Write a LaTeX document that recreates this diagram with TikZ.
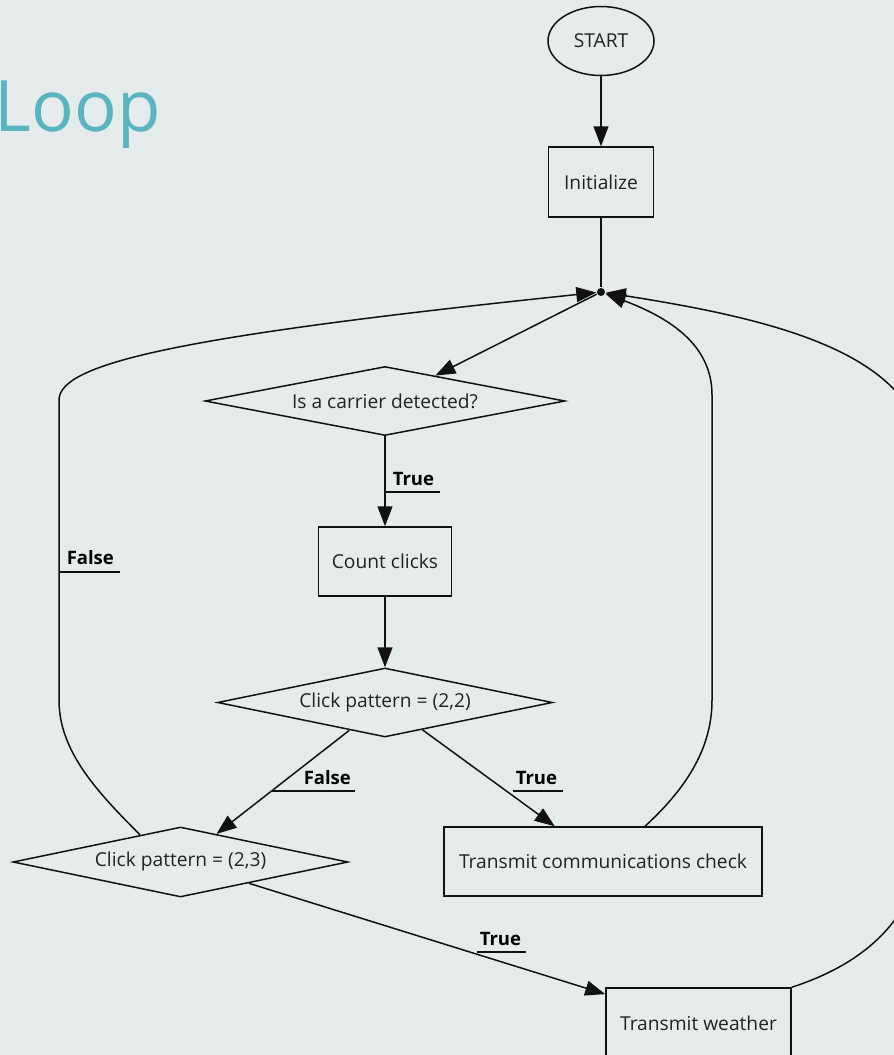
\documentclass[tikz,border=0pt]{standalone}
\usepackage{fontspec}
\setmainfont{Open Sans}
\usetikzlibrary{shapes.geometric,arrows.meta,calc}
\definecolor{bgc}{HTML}{E6ECEC}
\definecolor{titlec}{HTML}{5BB5C1}
\definecolor{ink}{HTML}{111111}
\definecolor{txt}{HTML}{222222}

\begin{document}
\begin{tikzpicture}[x=1pt,y=-1pt,line width=1.5pt,draw=ink,
  every node/.style={text=txt},
  nodefont/.style={font=\fontsize{19.2}{23}\selectfont},
  terminal/.style={draw=ink,ellipse,inner sep=0pt,nodefont},
  process/.style={draw=ink,rectangle,inner sep=0pt,nodefont},
  decision/.style={draw=ink,diamond,inner sep=0pt,nodefont},
  joint/.style={circle,fill=ink,inner sep=0pt,minimum size=8pt},
  flow/.style={draw=ink,-{Triangle[length=20pt,width=15pt]}},
  elabel/.style={anchor=base west,inner sep=0pt,text=black,
    font=\bfseries\fontsize{18.5}{22}\selectfont},
  uline/.style={draw=ink,line width=1.5pt}]
\useasboundingbox[fill=bgc] (0,0) rectangle (894,1055);

% title
\node[anchor=base west,inner sep=0pt,text=titlec,
  font=\fontsize{71}{78}\selectfont] (title) at (-6,131) {Loop};

% flowchart nodes
\node[terminal,minimum width=106pt,minimum height=69pt] (start) at (601,41) {START};
\node[process,minimum width=105pt,minimum height=70pt] (init) at (601,182) {Initialize};
\node[joint] (j) at (601,292) {};
\node[decision,minimum width=360pt,minimum height=69pt,aspect=5.2] (carrier) at (385,401) {Is a carrier detected?};
\node[process,minimum width=133pt,minimum height=69pt] (count) at (385,561.5) {Count clicks};
\node[decision,minimum width=335pt,minimum height=69pt,aspect=4.85] (p22) at (385,702.5) {Click pattern = (2,2)};
\node[decision,minimum width=335pt,minimum height=70pt,aspect=4.8] (p23) at (180.5,862) {Click pattern = (2,3)};
\node[process,minimum width=318pt,minimum height=69pt] (comm) at (603,861.5) {Transmit communications check};
\node[process,minimum width=185pt,minimum height=70pt] (weather) at (698.5,1023) {Transmit weather};

% straight connectors
\draw[flow] (start) -- (init);
\draw (init) -- (j);
\draw[flow] (j) -- (carrier);
\draw[flow] (carrier) -- (count);
\draw[flow] (count) -- (p22);
\draw[flow] (p22) -- (p23);
\draw[flow] (p22) -- (comm);
\draw[flow] (p23) -- (weather);

% loops back to the junction
\draw[flow] ($(p23.north)!0.24!(p23.west)$) .. controls (95,790) and (59,750) .. (59,700)
  -- (59,400) .. controls (59,362) and (190,335) .. (j);
\draw[flow] ([xshift=42pt]comm.north) .. controls (690,785) and (712,745) .. (712,700)
  -- (712,395) .. controls (712,345) and (670,318) .. (j);
\draw[flow] (weather.north east) .. controls (860,965) and (925,920) .. (925,820)
  -- (925,460) .. controls (920,355) and (780,320) .. (j);

% edge labels
\node[elabel] (t1) at (392,485) {True};
\draw[uline] ($(t1.base west)+(-7,7)$) -- ($(t1.base east)+(5,7)$);
\node[elabel] (f1) at (66,564) {False};
\draw[uline] ($(f1.base west)+(-7,8)$) -- ($(f1.base east)+(5,8)$);
\node[elabel] (f2) at (303,784) {False};
\draw[uline] ($(f2.base west)+(-31,7)$) -- ($(f2.base east)+(3,7)$);
\node[elabel] (t2) at (515,784) {True};
\draw[uline] ($(t2.base west)+(-2,7)$) -- ($(t2.base east)+(5,7)$);
\node[elabel] (t3) at (479,945) {True};
\draw[uline] ($(t3.base west)+(-2,7)$) -- ($(t3.base east)+(4,7)$);
\end{tikzpicture}
\end{document}
